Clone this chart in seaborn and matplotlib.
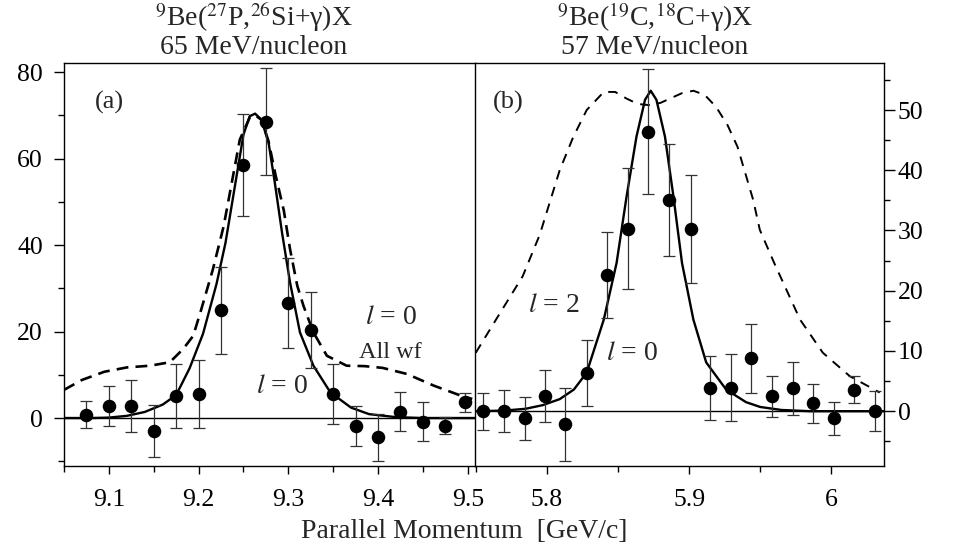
import numpy as np
import pandas as pd
import matplotlib
matplotlib.use('Agg')
import matplotlib.pyplot as plt
import seaborn as sns

# ---------------- data: panel (a) 27P -> 26Si ----------------
a_x = [9.075, 9.100, 9.125, 9.150, 9.175, 9.200, 9.225, 9.250, 9.275,
       9.300, 9.325, 9.350, 9.375, 9.400, 9.425, 9.450, 9.475, 9.497]
a_y = [0.8, 2.8, 2.7, -3.0, 5.0, 5.5, 24.9, 58.5, 68.5,
       26.6, 20.3, 5.6, -1.8, -4.5, 1.5, -0.9, -1.8, 3.6]
a_err = [3.2, 4.7, 6.0, 6.0, 7.4, 7.9, 10.0, 11.8, 12.4,
         10.3, 8.8, 6.9, 4.6, 5.4, 4.6, 4.5, 2.0, 2.1]

a_sol_x = [9.05, 9.08, 9.10, 9.12, 9.14, 9.16, 9.175, 9.19, 9.205, 9.22, 9.23,
           9.24, 9.25, 9.257, 9.263, 9.27, 9.278, 9.285, 9.293, 9.302, 9.313,
           9.328, 9.347, 9.37, 9.39, 9.42, 9.45, 9.51]
a_sol_y = [0.0, 0.0, 0.1, 0.5, 1.4, 3.1, 5.3, 11.5, 19.5, 31.0, 40.5,
           53.0, 65.5, 69.8, 70.4, 69.0, 63.7, 54.4, 42.9, 31.3, 19.8,
           12.1, 5.9, 2.4, 0.9, 0.2, 0.0, 0.0]

a_dash_x = [9.05, 9.07, 9.095, 9.12, 9.146, 9.168, 9.183, 9.194, 9.202, 9.216,
            9.228, 9.237, 9.246, 9.257, 9.263, 9.27, 9.278, 9.286, 9.295, 9.302,
            9.31, 9.317, 9.328, 9.343, 9.365, 9.385, 9.405, 9.432, 9.462, 9.492, 9.505]
a_dash_y = [6.5, 8.8, 10.7, 11.7, 12.1, 12.9, 16.0, 19.0, 24.4, 34.4,
            44.4, 54.4, 64.4, 69.5, 70.0, 69.0, 64.0, 56.0, 48.0, 39.0,
            30.6, 25.9, 19.8, 14.4, 12.1, 12.0, 11.6, 10.2, 7.5, 5.2, 4.4]

# ---------------- data: panel (b) 19C -> 18C ----------------
b_x = [5.7552, 5.7698, 5.7843, 5.7988, 5.8130, 5.8280, 5.8424, 5.8567, 5.8712,
       5.8855, 5.9010, 5.9148, 5.9291, 5.9434, 5.9582, 5.9727, 5.9872, 6.0018,
       6.0160, 6.0306]
b_y = [0.0, 0.0, -1.2, 2.5, -2.2, 6.3, 22.6, 30.3, 46.4,
       35.1, 30.2, 3.8, 3.9, 8.8, 2.5, 3.8, 1.3, -1.2,
       3.6, 0.0]
b_err = [3.1, 3.5, 3.6, 4.3, 6.0, 5.5, 7.2, 10.0, 10.4,
         9.3, 9.0, 5.3, 5.6, 5.7, 3.4, 4.4, 3.2, 2.7,
         2.2, 3.3]

b_sol_x = [5.75, 5.77, 5.785, 5.797, 5.809, 5.819, 5.828, 5.84, 5.849, 5.856,
           5.863, 5.869, 5.873, 5.877, 5.883, 5.889, 5.895, 5.903, 5.912, 5.926,
           5.94, 5.95, 5.965, 5.985, 6.037]
b_sol_y = [0.0, 0.1, 0.4, 1.0, 2.0, 3.6, 6.4, 15.2, 24.6, 35.6,
           45.6, 51.7, 53.2, 51.7, 45.6, 35.6, 24.6, 15.2, 8.1, 3.6,
           1.5, 0.7, 0.2, 0.0, 0.0]

b_dash_x = [5.75, 5.765, 5.783, 5.795, 5.809, 5.8185, 5.828, 5.84, 5.848, 5.856,
            5.864, 5.8724, 5.88, 5.8865, 5.895, 5.903, 5.911, 5.919, 5.927, 5.934,
            5.945, 5.9497, 5.96, 5.978, 5.994, 6.013, 6.034]
b_dash_y = [9.7, 15.5, 22.4, 29.3, 40.0, 45.5, 50.0, 53.0, 53.0, 51.9,
            51.0, 50.8, 51.2, 51.9, 52.8, 53.2, 52.5, 50.5, 47.5, 43.9,
            35.1, 30.1, 24.5, 15.2, 9.7, 5.8, 3.1]

a_xticks = [9.1, 9.2, 9.3, 9.4, 9.5]
a_xticklabels = ['9.1', '9.2', '9.3', '9.4', '9.5']
a_yticks = [0, 20, 40, 60, 80]
b_xticks = [5.8, 5.9, 6.0]
b_xticklabels = ['5.8', '5.9', '6']
b_yticks = [0, 10, 20, 30, 40, 50]

title_a = [r'$^{9}$Be($^{27}$P,$^{26}$Si+γ)X', '65 MeV/nucleon']
title_b = [r'$^{9}$Be($^{19}$C,$^{18}$C+γ)X', '57 MeV/nucleon']
xlabel = 'Parallel Momentum  [GeV/c]'

# ---------------- style ----------------
sns.set_theme(style='ticks')
plt.rcParams['font.family'] = ['Liberation Serif', 'DejaVu Serif']
plt.rcParams['mathtext.fontset'] = 'stix'
plt.rcParams['axes.linewidth'] = 1.0

TICK_FS = 18.5
TITLE_FS = 20
LAB_FS = 20

fig = plt.figure(figsize=(9.56, 5.5), dpi=100)
axa = fig.add_axes([0.0669, 0.1527, 0.4299, 0.7327])
axb = fig.add_axes([0.4969, 0.1527, 0.4278, 0.7327])

for ax in (axa, axb):
    for s in ax.spines.values():
        s.set_color('black')
        s.set_linewidth(1.0)
    ax.set_facecolor('white')

# ---- panel (a)
axa.axhline(0, color='black', lw=1.0, zorder=1)
sns.lineplot(x=a_dash_x, y=a_dash_y, ax=axa, color='black', lw=1.9,
             linestyle=(0, (4.5, 2.7)), estimator=None, sort=False, zorder=2)
sns.lineplot(x=a_sol_x, y=a_sol_y, ax=axa, color='black', lw=1.7,
             estimator=None, sort=False, zorder=2)
axa.errorbar(a_x, a_y, yerr=a_err, fmt='none', ecolor='#333333',
             elinewidth=0.9, capsize=4.5, capthick=0.9, zorder=3)
sns.scatterplot(x=a_x, y=a_y, ax=axa, color='black', s=95,
                edgecolor='black', linewidth=0, zorder=4)
axa.set_xlim(9.05, 9.508)
axa.set_ylim(-11.1, 82.1)
axa.set_xticks(a_xticks)
axa.set_xticklabels(a_xticklabels)
axa.set_xticks([9.05, 9.15, 9.25, 9.35, 9.45], minor=True)
axa.set_yticks(a_yticks)
axa.set_yticks([-10, 10, 30, 50, 70], minor=True)
axa.tick_params(axis='y', which='major', direction='out', length=7, width=1.0,
                labelsize=TICK_FS, pad=8, color='black', labelcolor='black')
axa.tick_params(axis='y', which='minor', direction='out', length=4, width=1.0,
                color='black')
axa.tick_params(axis='x', which='major', direction='out', length=5.5, width=1.0,
                labelsize=TICK_FS, pad=11, color='black', labelcolor='black')
axa.tick_params(axis='x', which='minor', direction='out', length=4.5, width=1.0,
                color='black')
axa.spines['right'].set_visible(False)
axa.set_xlabel('')
axa.set_ylabel('')
axa.text(0.075, 0.901, '(a)', transform=axa.transAxes, fontsize=19,
         ha='left', va='center')
axa.text(9.414, 23.3, r'$l$ = 0', fontsize=LAB_FS, ha='center', va='center')
axa.text(9.414, 15.2, 'All wf', fontsize=17.5, ha='center', va='center')
axa.text(9.293, 7.2, r'$l$ = 0', fontsize=LAB_FS, ha='center', va='center')

# ---- panel (b)
axb.axhline(0, color='black', lw=1.0, zorder=1)
sns.lineplot(x=b_dash_x, y=b_dash_y, ax=axb, color='black', lw=1.4,
             linestyle=(0, (5.0, 4.0)), estimator=None, sort=False, zorder=2)
sns.lineplot(x=b_sol_x, y=b_sol_y, ax=axb, color='black', lw=1.7,
             estimator=None, sort=False, zorder=2)
axb.errorbar(b_x, b_y, yerr=b_err, fmt='none', ecolor='#333333',
             elinewidth=0.9, capsize=4.5, capthick=0.9, zorder=3)
sns.scatterplot(x=b_x, y=b_y, ax=axb, color='black', s=95,
                edgecolor='black', linewidth=0, zorder=4)
axb.set_xlim(5.7495, 6.037)
axb.set_ylim(-9.1, 57.8)
axb.set_xticks(b_xticks)
axb.set_xticklabels(b_xticklabels)
axb.set_xticks([5.75, 5.85, 5.95], minor=True)
axb.yaxis.tick_right()
axb.set_yticks(b_yticks)
axb.set_yticks([-5, 5, 15, 25, 35, 45, 55], minor=True)
axb.tick_params(axis='y', which='major', direction='out', length=8, width=1.0,
                labelsize=TICK_FS, pad=2, color='black', labelcolor='black')
axb.tick_params(axis='y', which='minor', direction='out', length=4.5, width=1.0,
                color='black')
axb.tick_params(axis='x', which='major', direction='out', length=5.5, width=1.0,
                labelsize=TICK_FS, pad=11, color='black', labelcolor='black')
axb.tick_params(axis='x', which='minor', direction='out', length=4.5, width=1.0,
                color='black')
axb.set_xlabel('')
axb.set_ylabel('')
axb.text(0.044, 0.901, '(b)', transform=axb.transAxes, fontsize=19,
         ha='left', va='center')
axb.text(5.805, 17.5, r'$l$ = 2', fontsize=LAB_FS, ha='center', va='center')
axb.text(5.860, 9.6, r'$l$ = 0', fontsize=LAB_FS, ha='center', va='center')

# ---- titles and axis label
fig.text(254 / 956, 1 - 26 / 550, title_a[0], fontsize=TITLE_FS, ha='center', va='baseline')
fig.text(254 / 956, 1 - 54 / 550, title_a[1], fontsize=TITLE_FS, ha='center', va='baseline')
fig.text(655 / 956, 1 - 26 / 550, title_b[0], fontsize=TITLE_FS, ha='center', va='baseline')
fig.text(655 / 956, 1 - 54 / 550, title_b[1], fontsize=TITLE_FS, ha='center', va='baseline')
fig.text(464 / 956, 1 - 538 / 550, xlabel, fontsize=TITLE_FS, ha='center', va='baseline')

fig.savefig('out.png', dpi=100, facecolor='white')
